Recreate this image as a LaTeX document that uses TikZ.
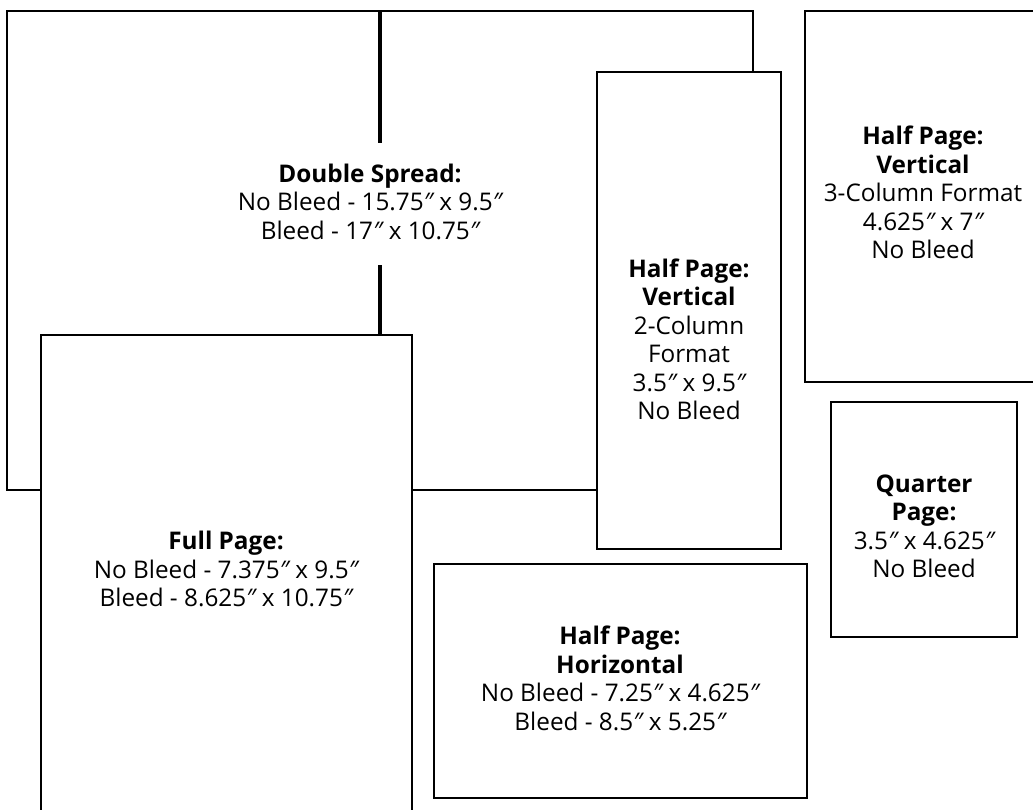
\documentclass[tikz,border=0pt]{standalone}
\usepackage{fontspec}
\setmainfont{Open Sans}
\newcommand\inchmark{{\itshape ″}}
\begin{document}
\begin{tikzpicture}[x=1pt,y=-1pt,
  box/.style={line width=2.6pt, fill=white},
  fold/.style={line width=4.5pt},
  lbl/.style={align=center, inner sep=0pt, font=\fontsize{24.3}{28.5}\selectfont}]
\useasboundingbox (0,0) rectangle (1033,809);
\clip (0,0) rectangle (1033,809);
% Double spread
\draw[box] (7,11) rectangle (753,490);
\draw[fold] (380,11) -- (380,143);
\draw[fold] (380,265) -- (380,335);
% Half page vertical 2-column
\filldraw[box] (597,72) rectangle (781,549);
% Full page
\filldraw[box] (41,335) rectangle (412,840);
% Half page vertical 3-column
\filldraw[box] (805,11) rectangle (1050,382);
% Quarter page
\filldraw[box] (831,402) rectangle (1017,637);
% Half page horizontal
\filldraw[box] (434,564) rectangle (807,798);

\node[lbl] (ds) at (370,201.5) {\textbf{Double Spread:}\\No Bleed - 15.75\inchmark{} x 9.5\inchmark\\Bleed - 17\inchmark{} x 10.75\inchmark};
\node[lbl] (hv2) at (689,339.5) {\textbf{Half Page:}\\\textbf{Vertical}\\2-Column\\Format\\3.5\inchmark{} x 9.5\inchmark\\No Bleed};
\node[lbl] (hv3) at (923,192.5) {\textbf{Half Page:}\\\textbf{Vertical}\\3-Column Format\\4.625\inchmark{} x 7\inchmark\\No Bleed};
\node[lbl] (qp) at (924,526.5) {\textbf{Quarter}\\\textbf{Page:}\\3.5\inchmark{} x 4.625\inchmark\\No Bleed};
\node[lbl] (fp) at (226,569) {\textbf{Full Page:}\\No Bleed - 7.375\inchmark{} x 9.5\inchmark\\Bleed - 8.625\inchmark{} x 10.75\inchmark};
\node[lbl] (hh) at (620,678.5) {\textbf{Half Page:}\\\textbf{Horizontal}\\No Bleed - 7.25\inchmark{} x 4.625\inchmark\\Bleed - 8.5\inchmark{} x 5.25\inchmark};
\end{tikzpicture}
\end{document}
